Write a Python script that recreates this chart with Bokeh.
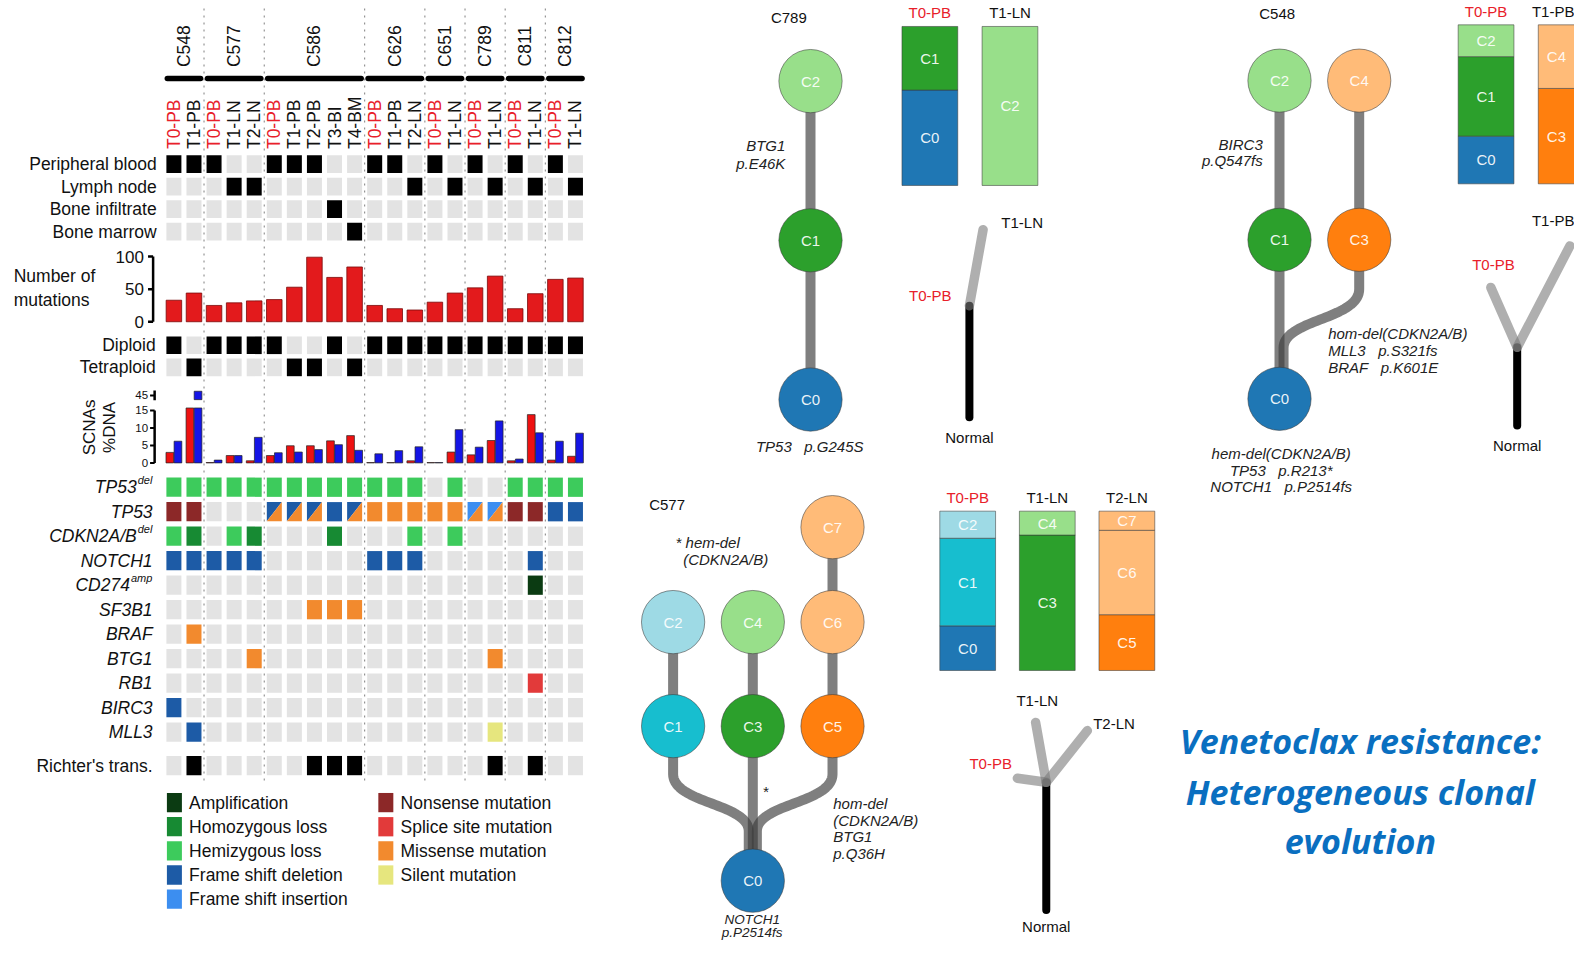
import numpy as np
from bokeh.plotting import figure
from bokeh.models import Range1d, ColumnDataSource
from bokeh.core.properties import value
from bokeh.embed import file_html
from bokeh.resources import INLINE

# ======================= DATA =======================
patients = ["C548", "C577", "C586", "C626", "C651", "C789", "C811", "C812"]
patient_samples = [
    ["T0-PB", "T1-PB"],
    ["T0-PB", "T1-LN", "T2-LN"],
    ["T0-PB", "T1-PB", "T2-PB", "T3-BI", "T4-BM"],
    ["T0-PB", "T1-PB", "T2-LN"],
    ["T0-PB", "T1-LN"],
    ["T0-PB", "T1-LN"],
    ["T0-PB", "T1-LN"],
    ["T0-PB", "T1-LN"],
]
site_labels = ["Peripheral blood", "Lymph node", "Bone infiltrate", "Bone marrow"]
site_codes = ["PB", "LN", "BI", "BM"]

n_mutations = [33, 44, 25, 29, 32, 34, 53, 99, 68, 84, 25, 20, 18, 30, 44, 52, 70, 20, 43, 65, 67]
mut_ticks = [0, 50, 100]

ploidy_labels = ["Diploid", "Tetraploid"]
ploidy_codes = ["D", "T"]
ploidy = ["D", "T", "D", "D", "D", "D", "T", "T", "D", "T", "D",
          "D", "D", "D", "D", "D", "D", "D", "D", "D", "D"]

scna_ticks = [0, 5, 10, 15, 45]
scna_red = [3.0, 15.7, 0.1, 2.1, 0.6, 2.1, 4.9, 4.9, 6.3, 7.8, 0.1,
            0.1, 0.6, 0.1, 3.1, 2.3, 6.4, 0.6, 13.8, 0.8, 1.9]
scna_blue = [6.2, 45.0, 0.8, 2.1, 7.3, 2.9, 3.1, 3.8, 5.2, 3.6, 2.6,
             3.5, 4.6, 0.1, 9.5, 4.5, 12.0, 1.1, 8.6, 6.2, 8.5]

gene_names = ["TP53", "TP53", "CDKN2A/B", "NOTCH1", "CD274", "SF3B1",
              "BRAF", "BTG1", "RB1", "BIRC3", "MLL3"]
gene_sup = ["del", "", "del", "", "amp", "", "", "", "", "", ""]
alt_TP53del = ["h"] * 13 + [".", "h", ".", "."] + ["h"] * 4
alt_TP53 = ["N", "N", ".", ".", ".", "DM", "DM", "DM", "D", "DM", "M",
            "M", "M", "M", "M", "IM", "IM", "N", "N", "D", "D"]
alt_CDKN2AB = ["h", "H", ".", "h", "H", ".", ".", ".", "H", ".", ".",
               ".", "h", ".", "h", ".", ".", ".", ".", ".", "."]
alt_NOTCH1 = ["D", "D", "D", "D", "D", ".", ".", ".", ".", ".", "D",
              "D", "D", ".", ".", ".", ".", ".", "D", ".", "."]
alt_CD274 = ["."] * 18 + ["A", ".", "."]
alt_SF3B1 = ["."] * 7 + ["M", "M", "M"] + ["."] * 11
alt_BRAF = [".", "M"] + ["."] * 19
alt_BTG1 = ["."] * 4 + ["M"] + ["."] * 11 + ["M"] + ["."] * 4
alt_RB1 = ["."] * 18 + ["S", ".", "."]
alt_BIRC3 = ["D"] + ["."] * 20
alt_MLL3 = [".", "D"] + ["."] * 14 + ["L"] + ["."] * 4
alterations = [alt_TP53del, alt_TP53, alt_CDKN2AB, alt_NOTCH1, alt_CD274, alt_SF3B1,
               alt_BRAF, alt_BTG1, alt_RB1, alt_BIRC3, alt_MLL3]
richter = [0, 1, 0, 0, 0, 0, 0, 1, 1, 1, 0, 0, 0, 0, 0, 0, 1, 0, 1, 0, 0]

legend_left = [("A", "Amplification"), ("H", "Homozygous loss"), ("h", "Hemizygous loss"),
               ("D", "Frame shift deletion"), ("I", "Frame shift insertion")]
legend_right = [("N", "Nonsense mutation"), ("S", "Splice site mutation"),
                ("M", "Missense mutation"), ("L", "Silent mutation")]

# clonal trees
tree_names = ["C789", "C548", "C577"]
tree_clones = {
    "C789": ["C0", "C1", "C2"],
    "C548": ["C0", "C1", "C2", "C3", "C4"],
    "C577": ["C0", "C1", "C2", "C3", "C4", "C5", "C6", "C7"],
}
tree_parents = {
    "C789": [None, "C0", "C1"],
    "C548": [None, "C0", "C1", "C0", "C3"],
    "C577": [None, "C0", "C1", "C0", "C3", "C0", "C5", "C6"],
}
tree_branch = {"C789": [0, 0, 0], "C548": [0, 0, 0, 1, 1], "C577": [0, -1, -1, 0, 0, 1, 1, 1]}
tree_level = {"C789": [0, 1, 2], "C548": [0, 1, 2, 1, 2], "C577": [0, 1, 2, 1, 2, 1, 2, 3]}
tree_colors = {
    "C789": ["#1f77b4", "#2ca02c", "#98df8a"],
    "C548": ["#1f77b4", "#2ca02c", "#98df8a", "#ff7f0e", "#ffbb78"],
    "C577": ["#1f77b4", "#17becf", "#9edae5", "#2ca02c", "#98df8a", "#ff7f0e", "#ffbb78", "#ffbb78"],
}
clone_samples = {"C789": ["T0-PB", "T1-LN"], "C548": ["T0-PB", "T1-PB"], "C577": ["T0-PB", "T1-LN", "T2-LN"]}
clone_fractions = {
    "C789": [[60, 40, 0], [0, 0, 100]],
    "C548": [[30, 50, 20, 0, 0], [0, 0, 0, 60, 40]],
    "C577": [[28, 55, 17, 0, 0, 0, 0, 0], [0, 0, 0, 85, 15, 0, 0, 0], [0, 0, 0, 0, 0, 35, 53, 12]],
}
# sample phylogeny (trunk length, branches: label, dx, dy)
phylo_trunk = {"C789": 110, "C548": 77, "C577": 126}
phylo_branches = {
    "C789": [("T1-LN", 13.5, -75)],
    "C548": [("T0-PB", -26, -59), ("T1-PB", 52, -100)],
    "C577": [("T0-PB", -28.5, -4), ("T1-LN", -10.5, -59), ("T2-LN", 40.5, -51)],
}
title_lines = ["Venetoclax resistance:", "Heterogeneous clonal", "evolution"]

# ======================= STYLE / LAYOUT =======================
ALT_COL = {"A": "#0b3b12", "H": "#178a33", "h": "#3dcb5c", "D": "#1d5ba6", "I": "#3c8ef0",
           "N": "#8c2828", "S": "#e23a3a", "M": "#f28a2e", "L": "#e6e67e"}
GREY = "#e3e3e3"
RED_T = "#e8202a"
FONT = "Liberation Sans"
NB = "\u00a0"

S = 1590 / 1568
PW, PH = 1574, 941
Y_TOP, Y_BOT = 0.0, PH / S
X_L, X_R = 0.0, PW / S

p = figure(width=PW, height=PH, output_backend="svg", toolbar_location=None,
           x_range=Range1d(X_L, X_R), y_range=Range1d(Y_BOT, Y_TOP),
           x_axis_type=None, y_axis_type=None, min_border=0,
           outline_line_color=None, background_fill_color="white", border_fill_color="white")
p.title.visible = False


def add_range(name, va, ya, vb, yb):
    k = (yb - ya) / (vb - va)
    rng = Range1d(start=va + (Y_BOT - ya) / k, end=va + (Y_TOP - ya) / k)
    p.extra_y_ranges = {**p.extra_y_ranges, name: rng}


def txt(x, y, t, size, color="#111111", align="left", baseline="middle", style="normal",
        angle=0.0, font=FONT, yr=None, alpha=1.0):
    xs = list(x) if isinstance(x, (list, tuple, np.ndarray)) else [x]
    ys = list(y) if isinstance(y, (list, tuple, np.ndarray)) else [y] * len(xs)
    ts = list(t) if isinstance(t, (list, tuple)) else [t] * len(xs)
    if len(xs) == 1 and len(ys) > 1:
        xs = xs * len(ys)
    if len(ts) == 1 and len(ys) > 1:
        ts = ts * len(ys)
    cs = list(color) if isinstance(color, (list, tuple)) else [color] * len(xs)
    src = ColumnDataSource(dict(x=xs, y=ys, text=ts, c=cs))
    kw = {"y_range_name": yr} if yr else {}
    p.text(x="x", y="y", text="text", source=src, text_color="c",
           text_font=value(font), text_font_size=f"{size}px", text_align=align,
           text_baseline=baseline, text_font_style=style, angle=angle, text_alpha=alpha, **kw)


# ---------- oncoprint geometry ----------
samples, groups = [], []
for gi, ss in enumerate(patient_samples):
    for s in ss:
        samples.append(s)
        groups.append(gi)
N = len(samples)
COL_X0, COL_DX, CELL_W = 171.0, 19.8, 14.8
xc = [COL_X0 + i * COL_DX for i in range(N)]

SITE_Y0, SITE_DY, SITE_H = 161.3, 22.2, 17.4
PLO_Y0, PLO_DY = 340.0, 21.8
GENE_Y0, GENE_DY, GENE_H = 480.0, 24.15, 19.0
RICHTER_Y = 754.5
LAB_R = 150.0

cells = dict(x=[], y=[], h=[], c=[])


def cell(x, y, h, c):
    cells["x"].append(x); cells["y"].append(y); cells["h"].append(h); cells["c"].append(c)


# separators between patients
sep_x = [(xc[i] + xc[i + 1]) / 2 for i in range(N - 1) if groups[i] != groups[i + 1]]
p.segment(x0=sep_x, y0=8, x1=sep_x, y1=772, line_color="#8a8a8a", line_width=1.1, line_dash="2 5")

# header: patients
for gi, pt in enumerate(patients):
    idx = [i for i in range(N) if groups[i] == gi]
    cx = (xc[idx[0]] + xc[idx[-1]]) / 2
    txt(cx, 45, pt, 17.5, "#111111", align="center", angle=np.pi / 2)
    p.segment(x0=[xc[idx[0]] - 6.5], y0=[77], x1=[xc[idx[-1]] + 6.5], y1=[77],
              line_color="black", line_width=5.5, line_cap="round")
txt(xc, 146.5, samples, 17.5, [RED_T if s.startswith("T0") else "#111111" for s in samples],
    align="left", angle=np.pi / 2)

# site rows
for r, (lab, code) in enumerate(zip(site_labels, site_codes)):
    y = SITE_Y0 + r * SITE_DY
    for i, s in enumerate(samples):
        cell(xc[i], y, SITE_H, "black" if s.endswith(code) else GREY)
    txt(LAB_R + 4, y, lab, 17.5, "#111111", align="right")

# mutations bar chart
add_range("mut", 0, 316.8, 100, 252.5)
p.vbar(x=xc, width=CELL_W + 0.5, top=n_mutations, bottom=0, y_range_name="mut",
       fill_color="#e31a1c", line_color="#7a0a0a", line_width=0.8)
AX_X = 150.5
p.segment(x0=[AX_X], y0=[0], x1=[AX_X], y1=[100], y_range_name="mut", line_color="black", line_width=2.5)
p.segment(x0=[AX_X - 5] * 3, y0=mut_ticks, x1=[AX_X] * 3, y1=mut_ticks, y_range_name="mut",
          line_color="black", line_width=2.5)
txt(AX_X - 9, mut_ticks, [str(t) for t in mut_ticks], 17, "#111111", align="right", yr="mut")
txt(13, [272, 295], ["Number of", "mutations"], 17.5, "#111111", align="left")

# ploidy
for r, (lab, code) in enumerate(zip(ploidy_labels, ploidy_codes)):
    y = PLO_Y0 + r * PLO_DY
    for i in range(N):
        cell(xc[i], y, SITE_H, "black" if ploidy[i] == code else GREY)
    txt(LAB_R + 3, y, lab, 17.5, "#111111", align="right")

# SCNA bars (broken axis above 16)
add_range("scna", 0, 456.0, 15, 404.25)
BREAK = 15.7
D45 = 19.28


def scna_disp(v):
    return v if v <= 16 else D45 + (v - 45) * 0.05


for vals, col, off in ((scna_red, "#ee1111", -4.0), (scna_blue, "#1515e6", 4.0)):
    low = [min(v, BREAK) for v in vals]
    p.vbar(x=[x + off for x in xc], width=7.6, top=low, bottom=0, y_range_name="scna",
           fill_color=col, line_color="#222222", line_width=0.7)
    hi_x = [xc[i] + off for i, v in enumerate(vals) if v > 16]
    hi_v = [scna_disp(v) for v in vals if v > 16]
    if hi_x:
        p.vbar(x=hi_x, width=7.6, top=[h + 1.2 for h in hi_v], bottom=[h - 1.2 for h in hi_v],
               y_range_name="scna", fill_color=col, line_color="#222222", line_width=0.7)
SAX = 152.0
p.segment(x0=[SAX], y0=[0], x1=[SAX], y1=[15], y_range_name="scna", line_color="black", line_width=2.5)
p.segment(x0=[SAX], y0=[D45 - 1.4], x1=[SAX], y1=[D45 + 1.4], y_range_name="scna",
          line_color="black", line_width=2.5)
tick_disp = [scna_disp(t) for t in scna_ticks]
p.segment(x0=[SAX - 4.5] * len(tick_disp), y0=tick_disp, x1=[SAX] * len(tick_disp), y1=tick_disp,
          y_range_name="scna", line_color="black", line_width=2)
txt(SAX - 6.5, tick_disp, [str(t) for t in scna_ticks], 11.5, "#111111", align="right", yr="scna")
txt([88, 107], [421, 421], ["SCNAs", "%DNA"], 17, "#111111", align="center", angle=np.pi / 2)

# gene rows
SUPW = {"del": 14.7, "amp": 21.4, "": 0}
tris = dict(xs=[], ys=[], c=[])
for j, (g, sup, row) in enumerate(zip(gene_names, gene_sup, alterations)):
    y = GENE_Y0 + j * GENE_DY
    for i, code in enumerate(row):
        if code == ".":
            cell(xc[i], y, GENE_H, GREY)
        elif len(code) == 1:
            cell(xc[i], y, GENE_H, ALT_COL[code])
        else:
            x0, x1 = xc[i] - CELL_W / 2, xc[i] + CELL_W / 2
            y0, y1 = y - GENE_H / 2, y + GENE_H / 2
            tris["xs"] += [[x0, x1, x0], [x1, x1, x0]]
            tris["ys"] += [[y0, y0, y1], [y0, y1, y1]]
            tris["c"] += [ALT_COL[code[0]], ALT_COL[code[1]]]
    end = LAB_R - (SUPW[sup] + 1 if sup else 0)
    txt(end, y, g, 17.5, "#111111", align="right", style="italic")
    if sup:
        txt(end + 1, y - 7.5, sup, 11, "#111111", align="left", style="italic")
for i in range(N):
    cell(xc[i], RICHTER_Y, GENE_H, "black" if richter[i] else GREY)
txt(LAB_R, RICHTER_Y, "Richter's trans.", 17.5, "#111111", align="right")

p.rect(x="x", y="y", width=CELL_W, height="h", fill_color="c", line_color=None,
       source=ColumnDataSource(cells))
p.patches(xs="xs", ys="ys", fill_color="c", line_color=None, source=ColumnDataSource(tris))

# legend
LEG_Y0, LEG_DY = 791.0, 23.8
for col_entries, sx in ((legend_left, 171.5), (legend_right, 380.0)):
    ys = [LEG_Y0 + k * LEG_DY for k in range(len(col_entries))]
    p.rect(x=[sx] * len(ys), y=ys, width=CELL_W, height=19, line_color=None,
           fill_color=[ALT_COL[c] for c, _ in col_entries])
    txt(sx + 14.5, ys, [t for _, t in col_entries], 17.5, "#111111", align="left")

# ======================= CLONAL TREES =======================
tree_root = {"C789": (798.8, 393.5), "C548": (1261.3, 392.8), "C577": (741.9, 868.0)}
tree_level_y = {"C789": [393.5, 236.5, 79.5], "C548": [392.8, 236.0, 79.0],
                "C577": [868.0, 715.6, 613.0, 519.4]}
BR_DX = 78.6
R_NODE = 31.2


def edge_path(px, py, cx, cy):
    if abs(px - cx) < 1:
        return [px, cx], [py, cy]
    gap = py - cy
    off = 4 if cx > px else -4
    yc, yp, ym = cy + 0.31 * gap, py - 0.32 * gap, py - 0.50 * gap
    t = np.linspace(0, 1, 40)
    P = [(cx, yc), (cx, ym), (px + off, ym), (px + off, yp)]
    bx = (1 - t) ** 3 * P[0][0] + 3 * (1 - t) ** 2 * t * P[1][0] + 3 * (1 - t) * t ** 2 * P[2][0] + t ** 3 * P[3][0]
    by = (1 - t) ** 3 * P[0][1] + 3 * (1 - t) ** 2 * t * P[1][1] + 3 * (1 - t) * t ** 2 * P[2][1] + t ** 3 * P[3][1]
    return [cx] + list(bx) + [px + off], [cy] + list(by) + [py]


for tn in tree_names:
    rx, _ = tree_root[tn]
    clones = tree_clones[tn]
    pos = {c: (rx + b * BR_DX, tree_level_y[tn][lv])
           for c, b, lv in zip(clones, tree_branch[tn], tree_level[tn])}
    exs, eys = [], []
    for c, par in zip(clones, tree_parents[tn]):
        if par is None:
            continue
        ex, ey = edge_path(pos[par][0], pos[par][1], pos[c][0], pos[c][1])
        exs.append(ex); eys.append(ey)
    p.multi_line(xs=exs, ys=eys, line_color="#3c3c3c", line_alpha=0.66, line_width=10,
                 line_join="round")
    cx_ = [pos[c][0] for c in clones]
    cy_ = [pos[c][1] for c in clones]
    p.circle(x=cx_, y=cy_, radius=R_NODE, fill_color=tree_colors[tn],
             line_color="#3a3a3a", line_alpha=0.55, line_width=1)
    txt(cx_, cy_, clones, 15, "white", align="center", alpha=0.92)

txt(777.4, 17, "C789", 15, "#111111", align="center")
txt(1259, 12.5, "C548", 15, "#111111", align="center")
txt(657.4, 497, "C577", 15, "#111111", align="center")

# mutation annotations
MUTF = 15
sp3 = NB * 3
txt(774, [143, 160.5], ["BTG1", "p.E46K"], MUTF, "#222222", align="right", style="italic")
txt(798, 440, "TP53" + sp3 + "p.G245S", MUTF, "#222222", align="center", style="italic")
txt(1244.8, [142, 158], ["BIRC3", "p.Q547fs"], MUTF, "#222222", align="right", style="italic")
txt(1309.3, [328.7, 345.2, 361.6],
    ["hom-del(CDKN2A/B)", "MLL3" + sp3 + "p.S321fs", "BRAF" + sp3 + "p.K601E"],
    MUTF, "#222222", align="left", style="italic")
txt(1263, [447, 463.5, 479],
    ["hem-del(CDKN2A/B)", "TP53" + sp3 + "p.R213*", "NOTCH1" + sp3 + "p.P2514fs"],
    MUTF, "#222222", align="center", style="italic")
txt(665.7, 534.2, "*" + NB + "hem-del", MUTF, "#222222", align="left", style="italic")
txt(673.2, 551.6, "(CDKN2A/B)", MUTF, "#222222", align="left", style="italic")
txt(754.4, 780, "*", MUTF, "#222222", align="center", style="italic")
txt(821.2, [792.2, 808.2, 824.6, 841.4], ["hom-del", "(CDKN2A/B)", "BTG1", "p.Q36H"],
    MUTF, "#222222", align="left", style="italic")
txt(741.3, [906.5, 919.0], ["NOTCH1", "p.P2514fs"], 13.5, "#222222", align="center", style="italic")

# stacked clone-fraction bars
bar_geom = {"C789": (889.0, 25.6, 182.4, 79.0), "C548": (1437.5, 24.0, 180.8, 79.0),
            "C577": (926.3, 503.6, 660.7, 78.5)}
BAR_W = 55.0
for tn in tree_names:
    x0, ytop, ybot, step = bar_geom[tn]
    rname = "frac_" + tn
    add_range(rname, 0, ybot, 100, ytop)
    qs = dict(l=[], r=[], b=[], t=[], c=[])
    ls = dict(x=[], y=[], text=[])
    for k, (smp, fr) in enumerate(zip(clone_samples[tn], clone_fractions[tn])):
        left = x0 + k * step
        cum = 0
        vis_c = (left + min(left + BAR_W, X_R)) / 2
        for cl, f, colr in zip(tree_clones[tn], fr, tree_colors[tn]):
            if f <= 0:
                continue
            qs["l"].append(left); qs["r"].append(left + BAR_W)
            qs["b"].append(cum); qs["t"].append(cum + f); qs["c"].append(colr)
            ls["x"].append(vis_c); ls["y"].append(cum + f / 2); ls["text"].append(cl)
            cum += f
        lx = min(left + BAR_W / 2, X_R - 21)
        txt(lx, ytop - 13.5, smp, 15, RED_T if smp.startswith("T0") else "#111111",
            align="center")
    p.quad(left="l", right="r", bottom="b", top="t", fill_color="c", y_range_name=rname,
           line_color="#3a3a3a", line_alpha=0.55, line_width=1, source=ColumnDataSource(qs))
    txt(ls["x"], ls["y"], ls["text"], 15, "white", align="center", yr=rname, alpha=0.92)

# sample phylogenies
phylo_base = {"C789": (955.5, 411.0), "C548": (1495.7, 419.0), "C577": (1031.3, 897.0)}
phylo_lab_off = {
    "C789": [(38.5, -7.4)],
    "C548": [(2.6, -23.0), (-4.0, -24.6)],
    "C577": [(-26.3, -14.3), (1.6, -21.4), (26.3, -6.7)],
}
for tn in tree_names:
    bx, by = phylo_base[tn]
    jy = by - phylo_trunk[tn]
    gx, gy = [], []
    for (lab, dx, dy), (ox, oy) in zip(phylo_branches[tn], phylo_lab_off[tn]):
        gx.append([bx, bx + dx]); gy.append([jy, jy + dy])
        lx = min(bx + dx + ox, X_R - 21)
        txt(lx, jy + dy + oy, lab, 15, RED_T if lab.startswith("T0") else "#111111",
            align="center")
    p.segment(x0=[bx], y0=[by], x1=[bx], y1=[jy], line_color="black", line_width=8, line_cap="round")
    p.multi_line(xs=gx, ys=gy, line_color="#7a7a7a", line_alpha=0.6, line_width=9.5, line_cap="round")
    nb_y = by + 20 if by + 20 < 915 else 913
    txt(bx, nb_y, "Normal", 15, "#111111", align="center")
txt(917, 291, "T0-PB", 15, RED_T, align="center")

# title
txt(1341, [730.5, 781.0, 828.4], title_lines, 34, "#0a6fc0", align="center",
    style="bold italic", font="Open Sans")

open("out.html", "w").write(file_html(p, INLINE))
